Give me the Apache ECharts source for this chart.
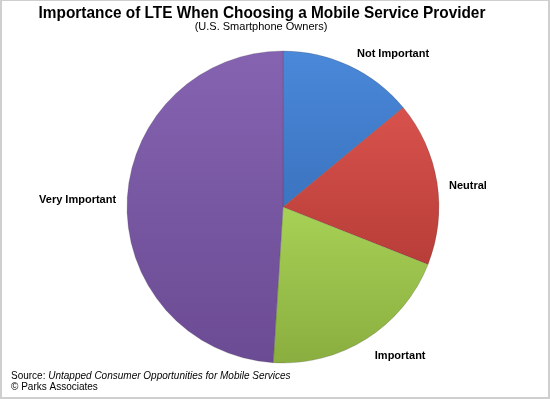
<!DOCTYPE html>
<html>
<head>
<meta charset="utf-8">
<script src="https://cdn.jsdelivr.net/npm/echarts@6/dist/echarts.min.js"></script>
<style>
html,body{margin:0;padding:0;background:#fff;}
#wrap{position:relative;width:550px;height:399px;overflow:hidden;}
#chart{position:absolute;left:0;top:0;width:550px;height:399px;}
#frame{position:absolute;left:0;top:0;width:550px;height:399px;box-sizing:border-box;border-style:solid;border-color:#cfcfcf;border-width:1px 2px 2px 2px;pointer-events:none;}
</style>
</head>
<body>
<div id="wrap"><div id="chart"></div><div id="frame"></div></div>
<script>
const titleText = 'Importance of LTE When Choosing a Mobile Service Provider';
const subtitleText = '(U.S. Smartphone Owners)';
const sourceLabel = 'Source: ';
const sourceTitle = 'Untapped Consumer Opportunities for Mobile Services';
const copyrightText = '© Parks Associates';
const categories = ['Not Important', 'Neutral', 'Important', 'Very Important'];
const shares = [14, 17, 20, 49];
const colorsTop = ['#4a88d9', '#d8524d', '#a7d156', '#8563b1'];
const colorsBottom = ['#3b74c0', '#b83d38', '#8aae3f', '#6b4b93'];

const FONT = '"Liberation Sans", Arial, sans-serif';
// small label nudges (Excel-style placement)
const labelNudge = {0: [0, -6], 1: [1, 4], 2: [0, 12], 3: [0, -2]};

const chart = echarts.init(document.getElementById('chart'));
const data = categories.map((c, i) => ({
  name: c,
  value: shares[i],
  itemStyle: {
    color: new echarts.graphic.LinearGradient(0, 0, 0, 1, [
      {offset: 0, color: colorsTop[i]},
      {offset: 1, color: colorsBottom[i]}
    ])
  }
}));

chart.setOption({
  animation: false,
  graphic: [
    {
      type: 'text',
      x: 262, y: 13,
      scaleX: 0.905,
      style: {text: titleText, fontFamily: FONT, fontWeight: 'bold', fontSize: 17, fill: '#000', align: 'center', verticalAlign: 'middle'}
    },
    {
      type: 'text',
      x: 261, y: 27,
      style: {text: subtitleText, fontFamily: FONT, fontSize: 11, fill: '#000', align: 'center', verticalAlign: 'middle'}
    },
    {
      type: 'text',
      x: 11, y: 382,
      style: {
        text: '{n|' + sourceLabel + '}{i|' + sourceTitle + '}\n{n|' + copyrightText + '}',
        verticalAlign: 'middle',
        rich: {
          n: {fontFamily: FONT, fontSize: 10, fontWeight: 'normal', fill: '#000', lineHeight: 11},
          i: {fontFamily: FONT, fontSize: 10, fontStyle: 'italic', fontWeight: 'normal', fill: '#000', lineHeight: 11}
        }
      }
    }
  ],
  series: [{
    type: 'pie',
    center: [283, 207],
    radius: [0, 156],
    startAngle: 90,
    clockwise: true,
    data: data,
    itemStyle: {borderColor: 'rgba(60,60,60,0.35)', borderWidth: 0.6},
    label: {
      show: true,
      position: 'outside',
      formatter: '{b}',
      fontFamily: FONT,
      fontWeight: 'bold',
      fontSize: 11,
      color: '#000'
    },
    labelLine: {show: false, length: 6, length2: 0},
    labelLayout: function (p) {
      const n = labelNudge[p.dataIndex] || [0, 0];
      return {dx: n[0], dy: n[1]};
    },
    emphasis: {disabled: true}
  }]
});
</script>
</body>
</html>
